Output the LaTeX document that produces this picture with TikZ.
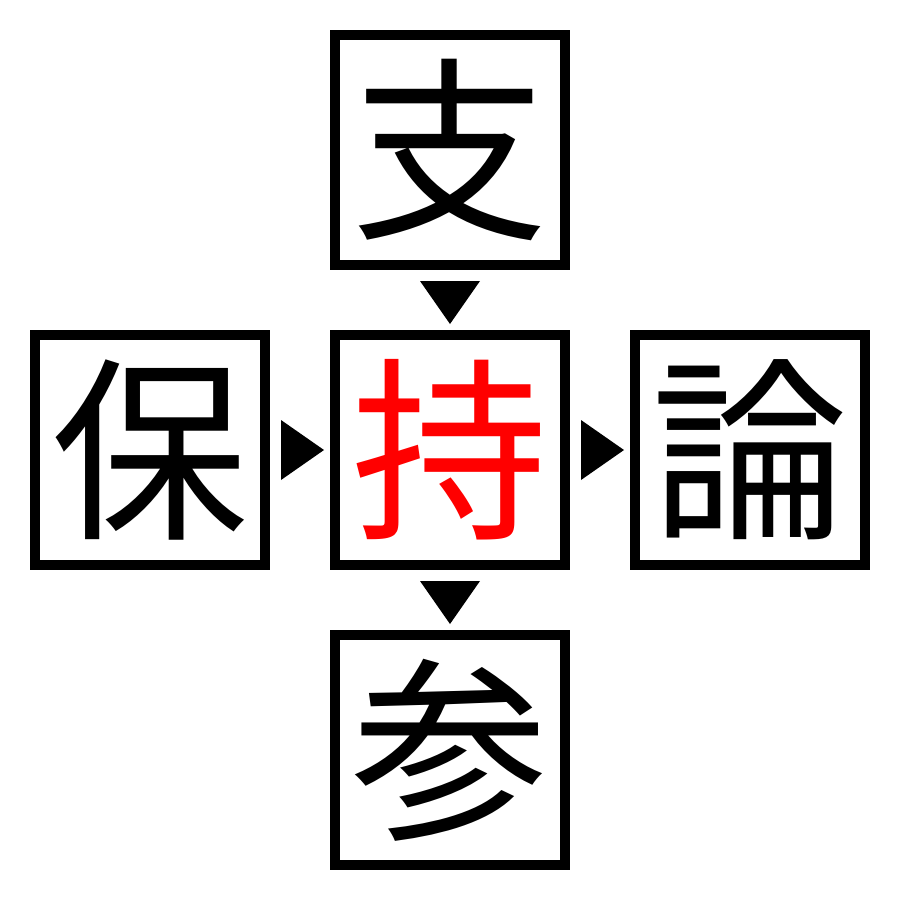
\documentclass[tikz,border=0pt]{standalone}
\usepackage{fontspec}
\newfontfamily\cjk{Noto Sans CJK JP}
\usetikzlibrary{calc}
\tikzset{
  kbox/.style={draw=black, line width=0.1cm, minimum size=2.3cm, inner sep=0pt,
    font=\cjk\fontsize{56}{56}\selectfont, fill=white},
}
\begin{document}
\begin{tikzpicture}
\useasboundingbox[fill=white] (0,0) rectangle (9,-9);
\node[kbox] (t) at (4.5,-1.5) {支};
\node[kbox, text={rgb,255:red,255;green,0;blue,0}] (c) at (4.5,-4.5) {持};
\node[kbox] (l) at (1.5,-4.5) {保};
\node[kbox] (r) at (7.5,-4.5) {論};
\node[kbox] (b) at (4.5,-7.5) {参};
\coordinate (m1) at ($(t.south)!0.5!(c.north)$);
\coordinate (m2) at ($(c.south)!0.5!(b.north)$);
\coordinate (m3) at ($(l.east)!0.5!(c.west)$);
\coordinate (m4) at ($(c.east)!0.5!(r.west)$);
\foreach \m in {m1,m2}{
  \fill ($(\m)+(-0.3,0.19)$) -- ($(\m)+(0.3,0.19)$) -- ($(\m)+(0,-0.24)$) -- cycle;
}
\foreach \m in {m3,m4}{
  \fill ($(\m)+(-0.19,0.3)$) -- ($(\m)+(-0.19,-0.3)$) -- ($(\m)+(0.24,0)$) -- cycle;
}
\end{tikzpicture}
\end{document}
